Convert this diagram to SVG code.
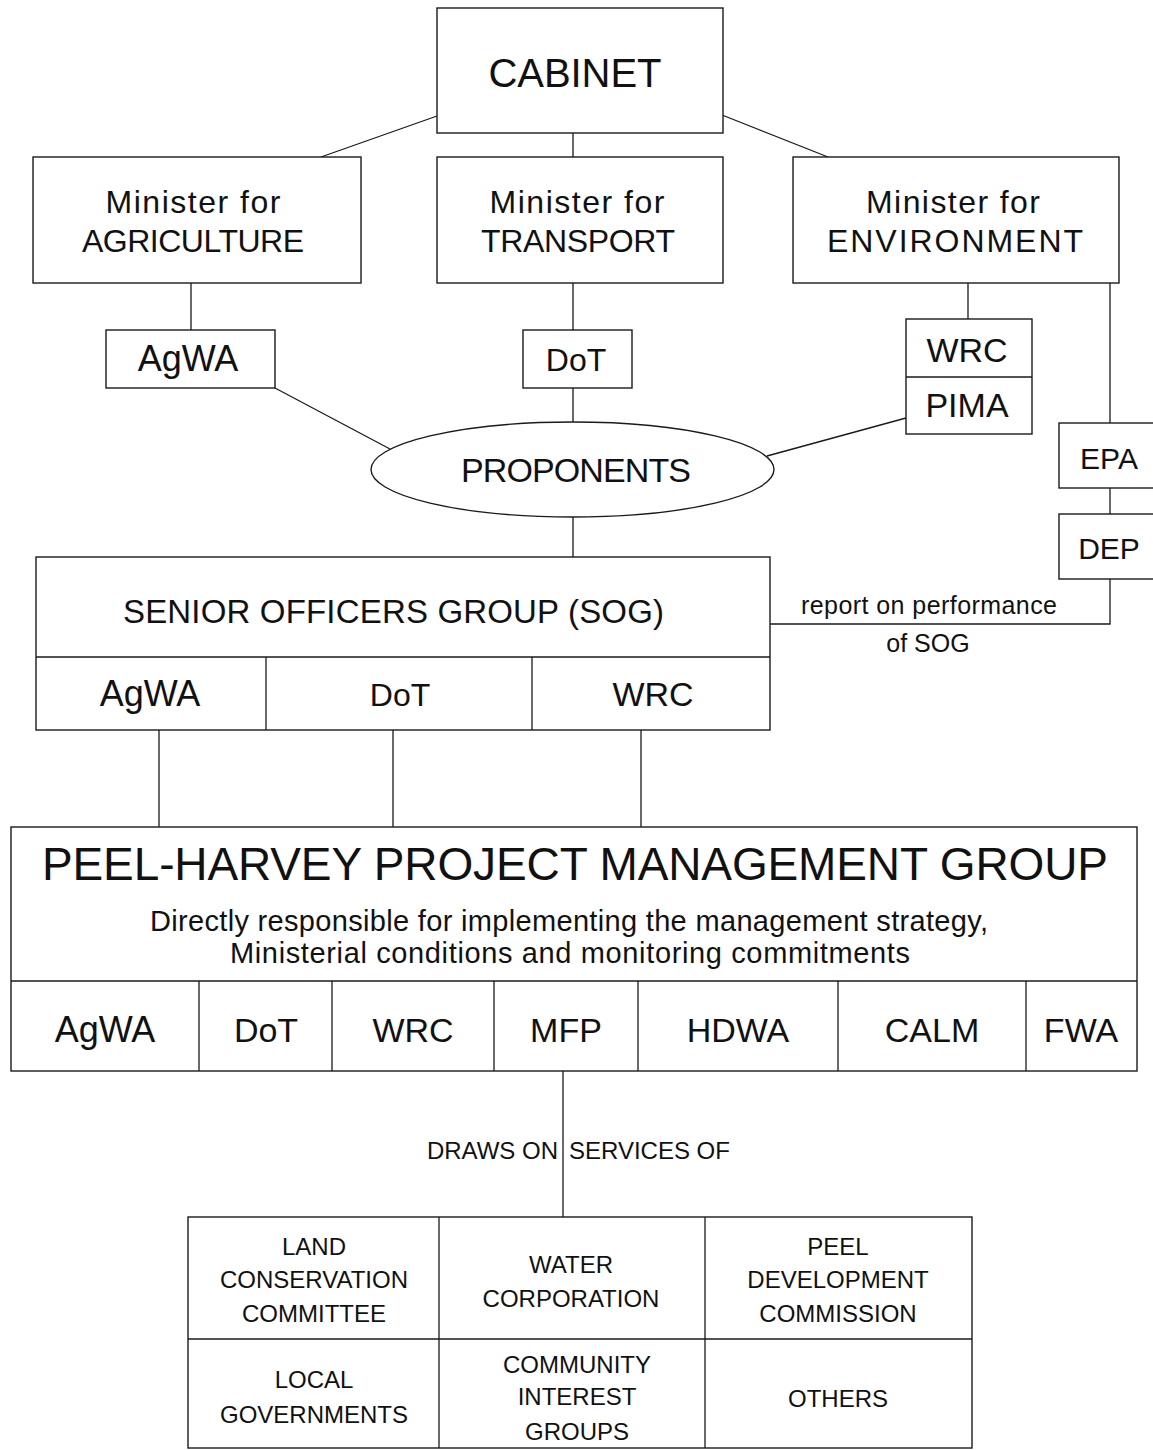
<svg xmlns="http://www.w3.org/2000/svg" width="1153" height="1450" viewBox="0 0 1153 1450">
<style>
.b{fill:#fff;stroke:#1a1a1a;stroke-width:1.4}
.l{fill:none;stroke:#1a1a1a;stroke-width:1.3}
text{font-family:"Liberation Sans",Arial,sans-serif;fill:#111;text-anchor:middle}
.m{font-size:32px}
.s{font-size:34px}
.t{font-size:24px}
</style>
<rect width="1153" height="1450" fill="#fff"/>
<g id="connectors">
<line class="l" x1="437" y1="116" x2="321" y2="157"/>
<line class="l" x1="573" y1="133" x2="573" y2="157"/>
<line class="l" x1="722" y1="115" x2="828" y2="157"/>
<line class="l" x1="191" y1="283" x2="191" y2="330"/>
<line class="l" x1="573" y1="283" x2="573" y2="330"/>
<line class="l" x1="573" y1="388" x2="573" y2="422"/>
<line class="l" x1="968" y1="283" x2="968" y2="319"/>
<line class="l" x1="1110" y1="283" x2="1110" y2="423"/>
<line class="l" x1="1110" y1="488" x2="1110" y2="514"/>
<polyline class="l" points="1110,579 1110,624 770,624"/>
<line class="l" x1="275" y1="388" x2="390" y2="449"/>
<line class="l" x1="906" y1="418" x2="767" y2="456"/>
<line class="l" x1="573" y1="517" x2="573" y2="557"/>
<line class="l" x1="159" y1="730" x2="159" y2="827"/>
<line class="l" x1="393" y1="730" x2="393" y2="827"/>
<line class="l" x1="641" y1="730" x2="641" y2="827"/>
<line class="l" x1="563" y1="1071" x2="563" y2="1217"/>
<text class="t" x="558" y="1159" style="text-anchor:end">DRAWS ON</text>
<text class="t" x="569" y="1159" style="text-anchor:start">SERVICES OF</text>
<text x="929" y="614" style="font-size:25px" textLength="256">report on performance</text>
<text x="928" y="652" style="font-size:25px">of SOG</text>
</g>
<g id="cabinet">
<rect class="b" x="437" y="8" width="286" height="125"/>
<text x="575" y="87" style="font-size:40px" textLength="173">CABINET</text>
</g>
<g id="min-agriculture">
<rect class="b" x="33" y="157" width="328" height="126"/>
<text class="m" x="193" y="213" textLength="175">Minister for</text>
<text class="m" x="193" y="252" textLength="222">AGRICULTURE</text>
</g>
<g id="min-transport">
<rect class="b" x="437" y="157" width="286" height="126"/>
<text class="m" x="577" y="213" textLength="175">Minister for</text>
<text class="m" x="578" y="252" textLength="194">TRANSPORT</text>
</g>
<g id="min-environment">
<rect class="b" x="793" y="157" width="326" height="126"/>
<text class="m" x="953" y="213" textLength="174">Minister for</text>
<text class="m" x="955" y="252" textLength="256">ENVIRONMENT</text>
</g>
<g id="agwa-top">
<rect class="b" x="106" y="330" width="169" height="58"/>
<text x="188" y="371" style="font-size:36px">AgWA</text>
</g>
<g id="dot-top">
<rect class="b" x="523" y="330" width="109" height="58"/>
<text x="576" y="371" style="font-size:32px">DoT</text>
</g>
<g id="wrc-pima">
<rect class="b" x="906" y="319" width="126" height="115"/>
<line class="l" x1="906" y1="377" x2="1032" y2="377"/>
<text class="s" x="967" y="362">WRC</text>
<text class="s" x="967" y="417">PIMA</text>
</g>
<g id="epa">
<rect class="b" x="1059" y="423" width="110" height="65"/>
<text x="1109" y="469" style="font-size:30px">EPA</text>
</g>
<g id="dep">
<rect class="b" x="1059" y="514" width="110" height="65"/>
<text x="1109" y="559" style="font-size:30px">DEP</text>
</g>
<g id="proponents">
<ellipse class="b" cx="572.5" cy="469.5" rx="201.5" ry="47.5"/>
<text class="s" x="576" y="482" textLength="230">PROPONENTS</text>
</g>
<g id="sog">
<rect class="b" x="36" y="557" width="734" height="173"/>
<line class="l" x1="36" y1="657" x2="770" y2="657"/>
<line class="l" x1="266" y1="657" x2="266" y2="730"/>
<line class="l" x1="532" y1="657" x2="532" y2="730"/>
<text x="393.5" y="623" style="font-size:33px" textLength="541">SENIOR OFFICERS GROUP (SOG)</text>
<text x="150" y="706" style="font-size:36px">AgWA</text>
<text x="400" y="706" style="font-size:32px">DoT</text>
<text class="s" x="653" y="706">WRC</text>
</g>
<g id="phpmg">
<rect class="b" x="11" y="827" width="1126" height="244"/>
<line class="l" x1="11" y1="981" x2="1137" y2="981"/>
<line class="l" x1="199" y1="981" x2="199" y2="1071"/>
<line class="l" x1="332" y1="981" x2="332" y2="1071"/>
<line class="l" x1="494" y1="981" x2="494" y2="1071"/>
<line class="l" x1="638" y1="981" x2="638" y2="1071"/>
<line class="l" x1="838" y1="981" x2="838" y2="1071"/>
<line class="l" x1="1026" y1="981" x2="1026" y2="1071"/>
<text x="575" y="880" style="font-size:46px" textLength="1066">PEEL-HARVEY PROJECT MANAGEMENT GROUP</text>
<text x="569" y="931" style="font-size:29px" textLength="838">Directly responsible for implementing the management strategy,</text>
<text x="570" y="963" style="font-size:29px" textLength="680">Ministerial conditions and monitoring commitments</text>
<text x="105" y="1042" style="font-size:36px">AgWA</text>
<text class="s" x="266" y="1042">DoT</text>
<text class="s" x="413" y="1042">WRC</text>
<text class="s" x="566" y="1042">MFP</text>
<text class="s" x="738" y="1042">HDWA</text>
<text class="s" x="932" y="1042">CALM</text>
<text class="s" x="1081" y="1042">FWA</text>
</g>
<g id="services">
<rect class="b" x="188" y="1217" width="784" height="231"/>
<line class="l" x1="188" y1="1339" x2="972" y2="1339"/>
<line class="l" x1="439" y1="1217" x2="439" y2="1448"/>
<line class="l" x1="705" y1="1217" x2="705" y2="1448"/>
<text class="t" x="314" y="1255">LAND</text>
<text class="t" x="314" y="1288">CONSERVATION</text>
<text class="t" x="314" y="1322">COMMITTEE</text>
<text class="t" x="571" y="1273">WATER</text>
<text class="t" x="571" y="1307">CORPORATION</text>
<text class="t" x="838" y="1255">PEEL</text>
<text class="t" x="838" y="1288">DEVELOPMENT</text>
<text class="t" x="838" y="1322">COMMISSION</text>
<text class="t" x="314" y="1388">LOCAL</text>
<text class="t" x="314" y="1423">GOVERNMENTS</text>
<text class="t" x="577" y="1373">COMMUNITY</text>
<text class="t" x="577" y="1405">INTEREST</text>
<text class="t" x="577" y="1440">GROUPS</text>
<text class="t" x="838" y="1407">OTHERS</text>
</g>
</svg>
